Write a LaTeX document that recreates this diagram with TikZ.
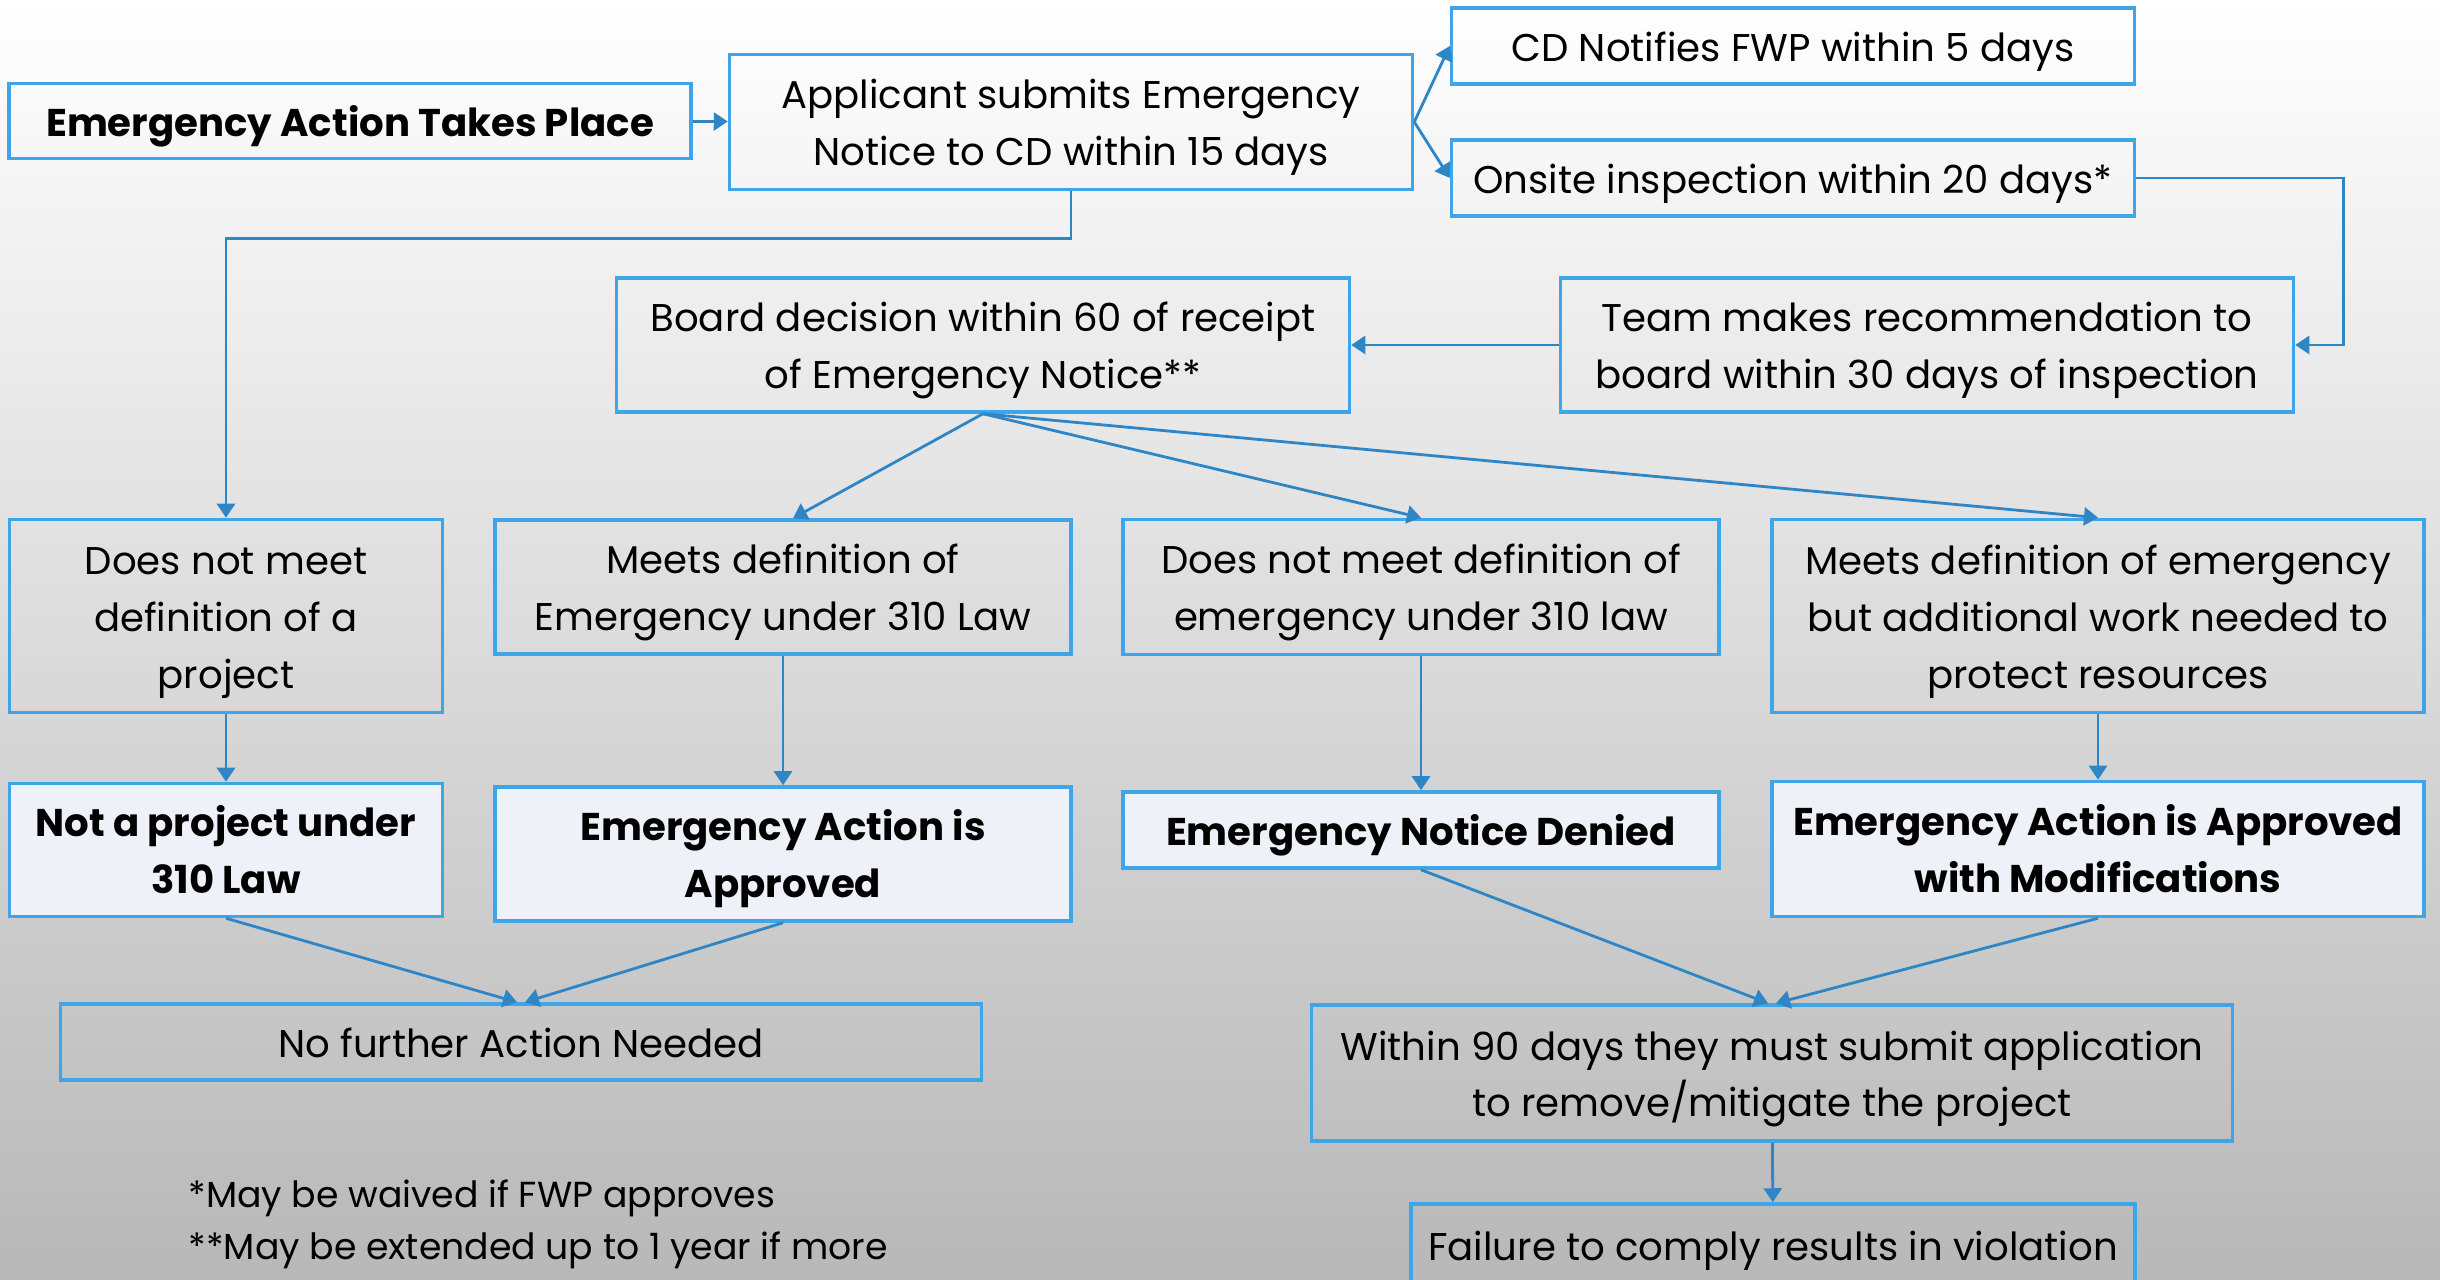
\documentclass[tikz,border=0pt]{standalone}
\usepackage{fontspec}
\setmainfont{Poppins}
\usetikzlibrary{arrows.meta}

\definecolor{boxline}{HTML}{3DA5E8}
\definecolor{arrline}{HTML}{2E86C6}
\definecolor{boxfill}{HTML}{EEF2F8}

\begin{document}
\begin{tikzpicture}[y=-1cm,
    box/.style={draw=boxline,line width=1pt,align=center,inner sep=0pt,
      font=\fontsize{11}{16.2}\selectfont,text height=12pt,text depth=3.2pt},
    two/.style={text height=28.2pt},
    three/.style={text height=44.4pt},
    res/.style={box,fill=boxfill,font=\fontsize{11}{16.2}\selectfont\bfseries},
    note/.style={anchor=west,inner sep=0pt,font=\fontsize{10.3}{12}\selectfont},
    arr/.style={draw=arrline,line width=0.8pt,-{Triangle[length=1.4mm,width=1.8mm]}}]
          \shade [top color=white,bottom color=black!28] (0,0) rectangle (24.4,12.8);
          \useasboundingbox (0,0) rectangle (24.4,12.8);

          % top row
          \node[box,minimum width=6.82cm,minimum height=0.75cm] (take) at (3.50,1.21)
            {\bfseries Emergency Action Takes Place};
          \node[box,two,minimum width=6.83cm,minimum height=1.35cm] (submit) at (10.71,1.22)
            {Applicant submits Emergency\\Notice to CD within 15 days};
          \node[box,minimum width=6.83cm,minimum height=0.76cm] (notify) at (17.93,0.46)
            {CD Notifies FWP within 5 days};
          \node[box,minimum width=6.83cm,minimum height=0.76cm] (inspect) at (17.93,1.78)
            {Onsite inspection within 20 days*};
          \node[box,two,minimum width=7.33cm,minimum height=1.34cm] (team) at (19.27,3.45)
            {Team makes recommendation to\\board within 30 days of inspection};
          \node[box,two,minimum width=7.33cm,minimum height=1.34cm] (board) at (9.83,3.45)
            {Board decision within 60 of receipt\\of Emergency Notice**};

          % decisions
          \node[box,three,minimum width=4.33cm,minimum height=1.93cm] (noproj) at (2.26,6.16)
            {Does not meet\\definition of a\\project};
          \node[box,two,minimum width=5.76cm,minimum height=1.34cm] (meets) at (7.83,5.87)
            {Meets definition of\\Emergency under 310 Law};
          \node[box,two,minimum width=5.96cm,minimum height=1.35cm] (notmeet) at (14.21,5.87)
            {Does not meet definition of\\emergency under 310 law};
          \node[box,three,minimum width=6.52cm,minimum height=1.93cm] (meetsmod) at (20.98,6.16)
            {Meets definition of emergency\\but additional work needed to\\protect resources};

          % results
          \node[res,two,minimum width=4.33cm,minimum height=1.33cm] (notunder) at (2.26,8.50)
            {Not a project under\\310 Law};
          \node[res,two,minimum width=5.76cm,minimum height=1.34cm] (approved) at (7.83,8.54)
            {Emergency Action is\\Approved};
          \node[res,minimum width=5.96cm,minimum height=0.76cm] (denied) at (14.21,8.30)
            {Emergency Notice Denied};
          \node[res,two,minimum width=6.52cm,minimum height=1.35cm] (approvedmod) at (20.98,8.49)
            {Emergency Action is Approved\\with Modifications};

          % follow up
          \node[box,minimum width=9.21cm,minimum height=0.76cm] (nofurther) at (5.21,10.42)
            {No further Action Needed};
          \node[box,two,minimum width=9.21cm,minimum height=1.36cm] (within) at (17.72,10.73)
            {Within 90 days they must submit application\\to remove/mitigate the project};
          \node[box,minimum width=7.24cm,minimum height=0.82cm] (failure) at (17.73,12.45)
            {Failure to comply results in violation};

          \node[note] (waived) at (1.88,11.98) {*May be waived if FWP approves};
          \node[note] (extended) at (1.88,12.50) {**May be extended up to 1 year if more};

          % connectors
          \draw[arr] (take) -- (submit);
          \draw[arr] (submit.east) -- (notify.west);
          \draw[arr] (submit.east) -- (inspect.west);
          \draw[arr] (submit.south) -- ++(0,0.47) -| (noproj.north);
          \draw[arr] (inspect.east) -- ++(2.07,0) |- (team.east);
          \draw[arr] (team) -- (board);
          \draw[arr] (board.south) -- ([xshift=1mm]meets.north);
          \draw[arr] (board.south) -- (notmeet.north);
          \draw[arr] (board.south) -- (meetsmod.north);
          \draw[arr] (noproj) -- (notunder);
          \draw[arr] (meets) -- (approved);
          \draw[arr] (notmeet) -- (denied);
          \draw[arr] (meetsmod) -- (approvedmod);
          \draw[arr] (notunder.south) -- ([xshift=-0.4mm]nofurther.north);
          \draw[arr] (approved.south) -- ([xshift=0.4mm]nofurther.north);
          \draw[arr] (denied.south) -- ([xshift=-0.4mm]within.north);
          \draw[arr] (approvedmod.south) -- ([xshift=0.4mm]within.north);
          \draw[arr] (within) -- (failure);
        \end{tikzpicture}
\end{document}
